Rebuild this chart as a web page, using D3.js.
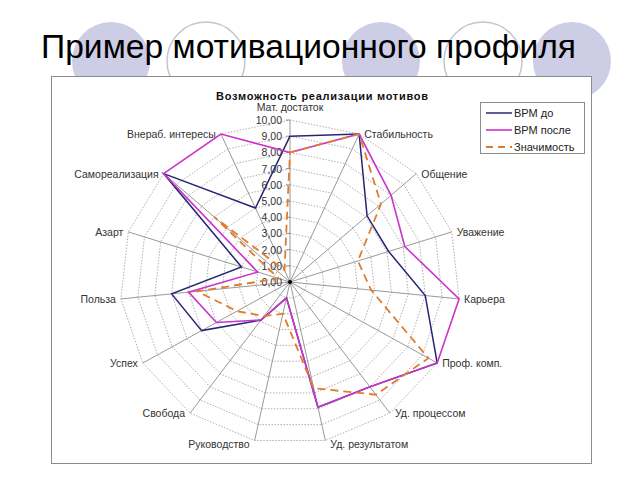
<!DOCTYPE html>
<html><head><meta charset="utf-8">
<script src="https://cdn.jsdelivr.net/npm/d3@7"></script>
<style>body{margin:0;background:#fff}svg{display:block}</style>
</head><body><svg id="c" width="640" height="480"></svg>
<script>
const categories = ["Мат. достаток","Стабильность","Общение","Уважение","Карьера","Проф. комп.","Уд. процессом","Уд. результатом","Руководство","Свобода","Успех","Польза","Азарт","Самореализация","Внераб. интересы"];
const seriesNames = ["ВРМ до","ВРМ после","Значимость"];
const vrmBefore  = [9, 10, 6.1, 6.1, 8, 10, 8, 7.9, 1, 2.9, 6, 7, 3, 10, 5];
const vrmAfter   = [8, 10, 8, 7.1, 10, 10, 8, 7.9, 1, 2.9, 5, 6, 2, 10, 10];
const importance = [8, 10, 7.2, 4.2, 4.8, 9.4, 8.6, 6.7, 2, 2.6, 3.6, 5.5, 0.7, 6, 0.8];
const tickValues = [0,1,2,3,4,5,6,7,8,9,10];
const tickLabels = ["0,00","1,00","2,00","3,00","4,00","5,00","6,00","7,00","8,00","9,00","10,00"];
const mainTitle = "Пример мотивационного профиля";
const chartTitle = "Возможность реализации мотивов";

const svg = d3.select("#c");
const font = "Liberation Sans, Arial, sans-serif";

// decorative circles
const deco = [{x:111,f:true},{x:206,f:false},{x:381,f:true},{x:483,f:false},{x:572,f:true}];
svg.selectAll("circle.deco").data(deco).join("circle")
  .attr("cx",d=>d.x).attr("cy",61).attr("r",39)
  .attr("fill",d=>d.f?"#cdcde6":"none")
  .attr("stroke",d=>d.f?"none":"#c4c4d4").attr("stroke-width",1.5);

svg.append("text").attr("x",41).attr("y",58).attr("font-family",font).attr("font-size",33)
  .attr("textLength",535).attr("lengthAdjust","spacingAndGlyphs").attr("fill","#000").text(mainTitle);

// chart box
svg.append("rect").attr("x",51.5).attr("y",76.5).attr("width",540).attr("height",387)
  .attr("fill","#fff").attr("stroke","#8c8c8c").attr("stroke-width",1);

svg.append("text").attr("x",216).attr("y",100).attr("font-family",font).attr("font-size",11)
  .attr("font-weight","bold").attr("textLength",212).attr("lengthAdjust","spacing").attr("fill","#111").text(chartTitle);

const cx = 290, cy = 282;
const rX = d3.scaleLinear().domain([0,10]).range([0,170]);
const rY = d3.scaleLinear().domain([0,10]).range([0,162]);
const ang = d3.scaleLinear().domain([0,categories.length]).range([0,2*Math.PI]);
const px = (i,v)=> cx + rX(v)*Math.sin(ang(i));
const py = (i,v)=> cy - rY(v)*Math.cos(ang(i));

const g = svg.append("g");
const idx = d3.range(categories.length);
tickValues.filter(t=>t>0).forEach(t=>{
  g.append("path").attr("d", d3.line().x(i=>px(i,t)).y(i=>py(i,t))(idx.concat([0])))
   .attr("fill","none").attr("stroke","#9a9a9a").attr("stroke-width",0.8).attr("stroke-dasharray","1.5,1.5");
});
g.selectAll("line.spoke").data(idx).join("line")
  .attr("x1",cx).attr("y1",cy).attr("x2",i=>px(i,10)).attr("y2",i=>py(i,10))
  .attr("stroke","#7f7f7f").attr("stroke-width",0.8);
g.selectAll("line.tk").data(tickValues).join("line")
  .attr("x1",cx-4).attr("x2",cx).attr("y1",t=>cy-rY(t)).attr("y2",t=>cy-rY(t))
  .attr("stroke","#7f7f7f").attr("stroke-width",0.8);
g.selectAll("text.tl").data(tickValues).join("text")
  .attr("x",cx-8).attr("y",t=>cy-rY(t)+4).attr("text-anchor","end")
  .attr("font-family",font).attr("font-size",10.5).attr("fill","#333").text((t,i)=>tickLabels[i]);

g.selectAll("text.cat").data(categories).join("text")
  .attr("font-family",font).attr("font-size",10.5).attr("fill","#333")
  .attr("x",(d,i)=>{const s=Math.sin(ang(i)); return px(i,10)+(Math.abs(s)<0.05?0:(s>0?5:-5));})
  .attr("y",(d,i)=>{const c=Math.cos(ang(i)); return py(i,10)+(c>0.99?-9:(c<-0.9?8:4));})
  .attr("text-anchor",(d,i)=>{const s=Math.sin(ang(i)); return Math.abs(s)<0.05?"middle":(s>0?"start":"end");})
  .text(d=>d);

const series = [
  {name:seriesNames[0], values:vrmBefore, color:"#262673", dash:null, w:1.5},
  {name:seriesNames[1], values:vrmAfter, color:"#cc33cc", dash:null, w:1.6},
  {name:seriesNames[2], values:importance, color:"#e07c2e", dash:"8,5", w:1.8}
];
const line = d3.line().x(d=>px(d.i,d.v)).y(d=>py(d.i,d.v));
series.forEach(s=>{
  const pts = s.values.map((v,i)=>({i,v}));
  g.append("path").attr("d", line(pts.concat([pts[0]])))
   .attr("fill","none").attr("stroke",s.color).attr("stroke-width",s.w)
   .attr("stroke-dasharray",s.dash).attr("stroke-linejoin","miter");
});
g.append("circle").attr("cx",cx).attr("cy",cy).attr("r",2).attr("fill","#000");

const lg = svg.append("g");
lg.append("rect").attr("x",480.5).attr("y",102.5).attr("width",104).attr("height",51)
  .attr("fill","#fff").attr("stroke","#8c8c8c");
series.forEach((s,k)=>{
  const y = 113 + k*17;
  lg.append("line").attr("x1",486).attr("x2",512).attr("y1",y).attr("y2",y)
    .attr("stroke",s.color).attr("stroke-width",s.w).attr("stroke-dasharray",s.dash?"7,5":null);
  lg.append("text").attr("x",514).attr("y",y+4).attr("font-family",font).attr("font-size",11)
    .attr("fill","#222").text(s.name);
});
</script></body></html>
